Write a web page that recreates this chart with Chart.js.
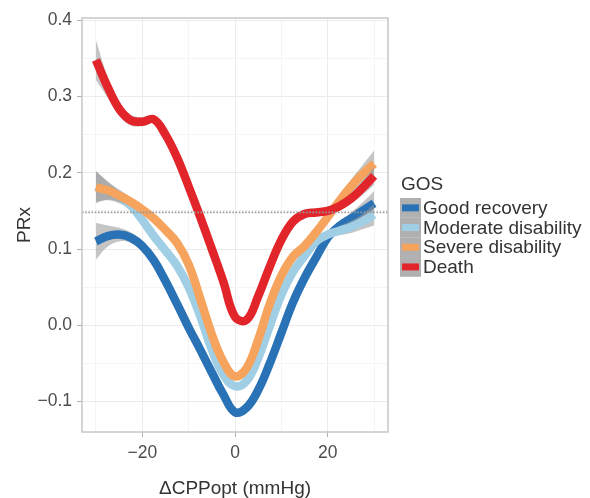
<!DOCTYPE html>
<html>
<head>
<meta charset="utf-8">
<script src="https://cdn.jsdelivr.net/npm/chart.js@4.4.1/dist/chart.umd.min.js"></script>
<style>
  html, body { margin: 0; padding: 0; background: #fff; }
  #wrap { width: 590px; height: 498px; }
</style>
</head>
<body>
<div id="wrap"><canvas id="chart" width="590" height="498"></canvas></div>
<script>
// ΔCPPopt grid (mmHg)
const cpp = [-30, -27.5, -25, -22.5, -20, -17.5, -15, -12.5, -10, -7.5, -5, -2.5, 0,
             2.5, 5, 7.5, 10, 12.5, 15, 17.5, 20, 22.5, 25, 27.5, 30];

// smoothed PRx per GOS group
const goodRecovery = [0.110, 0.117, 0.119, 0.115, 0.104, 0.085, 0.058, 0.028, -0.003, -0.032, -0.062, -0.091, -0.114,
                      -0.108, -0.085, -0.050, -0.010, 0.030, 0.062, 0.089, 0.115, 0.130, 0.140, 0.150, 0.160];
const moderateDisability = [0.182, 0.176, 0.168, 0.157, 0.138, 0.117, 0.098, 0.078, 0.050, 0.012, -0.032, -0.065, -0.080,
                            -0.073, -0.043, -0.001, 0.040, 0.070, 0.091, 0.110, 0.119, 0.124, 0.129, 0.136, 0.145];
const severeDisability = [0.181, 0.177, 0.170, 0.162, 0.152, 0.140, 0.125, 0.108, 0.080, 0.035, -0.012, -0.048, -0.067,
                          -0.056, -0.019, 0.028, 0.065, 0.090, 0.104, 0.122, 0.142, 0.163, 0.182, 0.198, 0.212];
const death = [0.348, 0.313, 0.284, 0.269, 0.267, 0.270, 0.250, 0.220, 0.182, 0.142, 0.100, 0.057, 0.011,
               0.007, 0.038, 0.077, 0.112, 0.136, 0.146, 0.148, 0.150, 0.156, 0.166, 0.180, 0.196];

// half width of the grey confidence ribbons
const goodBand = [0.024, 0.014, 0.009, 0.007, 0.006, 0.005, 0.005, 0.005, 0.005, 0.005, 0.005, 0.005, 0.005,
                  0.005, 0.005, 0.005, 0.005, 0.005, 0.005, 0.005, 0.005, 0.006, 0.008, 0.011, 0.016];
const moderateBand = [0.020, 0.012, 0.008, 0.006, 0.005, 0.005, 0.005, 0.005, 0.005, 0.005, 0.005, 0.005, 0.005,
                      0.005, 0.005, 0.005, 0.005, 0.005, 0.005, 0.005, 0.005, 0.006, 0.008, 0.010, 0.014];
const severeBand = [0.021, 0.012, 0.008, 0.006, 0.005, 0.005, 0.005, 0.005, 0.005, 0.005, 0.005, 0.005, 0.005,
                    0.005, 0.005, 0.005, 0.005, 0.005, 0.005, 0.005, 0.005, 0.007, 0.009, 0.012, 0.017];
const deathBand = [0.026, 0.014, 0.009, 0.007, 0.006, 0.005, 0.005, 0.005, 0.005, 0.005, 0.005, 0.005, 0.005,
                   0.005, 0.005, 0.005, 0.005, 0.005, 0.005, 0.005, 0.005, 0.006, 0.007, 0.009, 0.012];

const groupNames = ['Good recovery', 'Moderate disability', 'Severe disability', 'Death'];
const groupColors = ['#2a72b6', '#9fcee5', '#f5a35d', '#e2252b'];

// dotted reference line
const refLine = 0.148;

// ticks
const xMajor = [-20, 0, 20];
const xTickLabels = ['\u221220', '0', '20'];
const xMinor = [-30, -10, 10, 30];
const yMajor = [-0.1, 0, 0.1, 0.2, 0.3, 0.4];
const yTickLabels = ['\u22120.1', '0.0', '0.1', '0.2', '0.3', '0.4'];
const yMinor = [-0.05, 0.05, 0.15, 0.25, 0.35];

const FONT = "'Liberation Sans', Arial, Helvetica, sans-serif";
const RIBBON = 'rgba(150,150,150,0.55)';

const series = [goodRecovery, moderateDisability, severeDisability, death];
const bands = [goodBand, moderateBand, severeBand, deathBand];

const toPts = arr => cpp.map((x, i) => ({ x: x, y: arr[i] }));

// build datasets: lower ribbon edge, upper ribbon edge (filled), then the line
const datasets = [];
series.forEach((vals, g) => {
    const lower = vals.map((v, i) => v - bands[g][i]);
    const upper = vals.map((v, i) => v + bands[g][i]);
    const ord = 20 - g * 3;
    datasets.push({
        label: groupNames[g] + ' lower',
        data: toPts(lower),
        borderWidth: 0, pointRadius: 0, fill: false,
        tension: 0.4, order: ord
    });
    datasets.push({
        label: groupNames[g] + ' upper',
        data: toPts(upper),
        borderWidth: 0, pointRadius: 0, fill: '-1',
        backgroundColor: RIBBON,
        tension: 0.4, order: ord
    });
    datasets.push({
        label: groupNames[g],
        data: toPts(vals),
        borderColor: groupColors[g],
        borderWidth: 8.5, pointRadius: 0, fill: false,
        borderCapStyle: 'butt', borderJoinStyle: 'round',
        tension: 0.4, order: ord - 1
    });
});

const isMajor = (v, list) => list.some(m => Math.abs(m - v) < 1e-9);

// panel border + dotted line
const panelPlugin = {
    id: 'panel',
    afterDatasetsDraw(chart) {
        const { ctx, chartArea: a, scales } = chart;
        const y = scales.y.getPixelForValue(refLine);
        ctx.save();
        ctx.strokeStyle = '#9a9a9a';
        ctx.lineWidth = 1.6;
        ctx.setLineDash([1.6, 1.6]);
        ctx.beginPath();
        ctx.moveTo(a.left, y);
        ctx.lineTo(a.right, y);
        ctx.stroke();
        ctx.setLineDash([]);
        ctx.strokeStyle = '#c6c6c6';
        ctx.lineWidth = 1.5;
        ctx.strokeRect(a.left, a.top, a.right - a.left, a.bottom - a.top);
        ctx.restore();
    }
};

// ggplot-style legend on the right
const legendPlugin = {
    id: 'gosLegend',
    afterDraw(chart) {
        const { ctx } = chart;
        const x0 = 400, top = 198, row = 19.7, keyW = 21;
        ctx.save();
        ctx.fillStyle = '#333';
        ctx.font = '19px ' + FONT;
        ctx.textBaseline = 'middle';
        ctx.textAlign = 'left';
        ctx.fillText('GOS', x0 + 1, 185);
        groupNames.forEach((name, i) => {
            const yTop = top + i * row;
            ctx.fillStyle = 'rgba(150,150,150,0.75)';
            ctx.fillRect(x0, yTop, keyW, row);
            ctx.strokeStyle = groupColors[i];
            ctx.lineWidth = 7;
            ctx.lineCap = 'butt';
            ctx.beginPath();
            ctx.moveTo(x0 + 2, yTop + row / 2);
            ctx.lineTo(x0 + keyW - 2, yTop + row / 2);
            ctx.stroke();
            ctx.fillStyle = '#333';
            ctx.fillText(name, 423, yTop + row / 2 + 1);
        });
        ctx.restore();
    }
};

new Chart(document.getElementById('chart'), {
    type: 'line',
    data: { datasets: datasets },
    options: {
        responsive: false,
        animation: false,
        events: [],
        layout: { padding: { left: 0, right: 202, top: 18, bottom: 0 } },
        plugins: {
            legend: { display: false },
            tooltip: { enabled: false }
        },
        scales: {
            x: {
                type: 'linear',
                min: -33, max: 33,
                afterBuildTicks: s => { s.ticks = [...xMajor, ...xMinor].sort((a, b) => a - b).map(v => ({ value: v })); },
                afterFit: s => { s.height = 66; },
                ticks: {
                    autoSkip: false, maxRotation: 0, padding: 6,
                    color: '#4d4d4d',
                    font: { family: FONT, size: 17.5 },
                    callback: v => isMajor(v, xMajor) ? xTickLabels[xMajor.findIndex(m => Math.abs(m - v) < 1e-9)] : ''
                },
                grid: {
                    color: c => isMajor(c.tick.value, xMajor) ? '#ebebeb' : '#f5f5f5',
                    tickColor: c => isMajor(c.tick.value, xMajor) ? '#b0b0b0' : 'rgba(0,0,0,0)',
                    tickLength: 5, lineWidth: 1
                },
                border: { display: false },
                title: {
                    display: true, text: '\u0394CPPopt (mmHg)',
                    color: '#333',
                    font: { family: FONT, size: 19, lineHeight: 1 },
                    padding: { top: 0, bottom: 0 }
                }
            },
            y: {
                type: 'linear',
                min: -0.14, max: 0.403,
                afterBuildTicks: s => { s.ticks = [...yMajor, ...yMinor].sort((a, b) => a - b).map(v => ({ value: v })); },
                afterFit: s => { s.width = 82; },
                ticks: {
                    autoSkip: false, padding: 5,
                    color: '#4d4d4d',
                    font: { family: FONT, size: 17.5 },
                    callback: v => isMajor(v, yMajor) ? yTickLabels[yMajor.findIndex(m => Math.abs(m - v) < 1e-9)] : ''
                },
                grid: {
                    color: c => isMajor(c.tick.value, yMajor) ? '#ebebeb' : '#f5f5f5',
                    tickColor: c => isMajor(c.tick.value, yMajor) ? '#b0b0b0' : 'rgba(0,0,0,0)',
                    tickLength: 5, lineWidth: 1
                },
                border: { display: false },
                title: {
                    display: true, text: 'PRx',
                    color: '#333',
                    font: { family: FONT, size: 19, lineHeight: 1 },
                    padding: { top: 15.5, bottom: 0 }
                }
            }
        }
    },
    plugins: [panelPlugin, legendPlugin]
});
</script>
</body>
</html>
